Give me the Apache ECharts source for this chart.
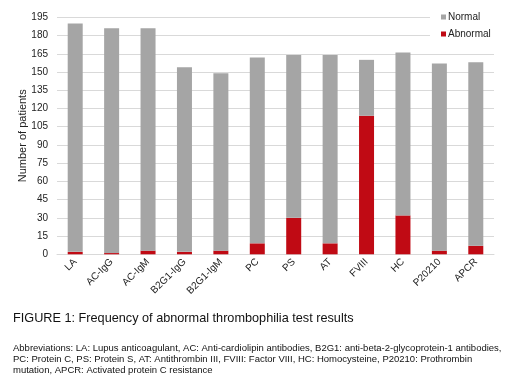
<!DOCTYPE html>
<html><head><meta charset="utf-8">
<script src="https://cdn.jsdelivr.net/npm/echarts@6/dist/echarts.min.js"></script>
<style>html,body{margin:0;padding:0;background:#fff}#c{width:520px;height:391px}</style>
</head><body><div id="c"></div>
<script>
const categories = ['LA','AC-IgG','AC-IgM','B2G1-IgG','B2G1-IgM','PC','PS','AT','FVIII','HC','P20210','APCR'];
const abnormal = [2,1,3,2,3,9,30,9,114,32,3,7];
const normal = [188,185,183,152,146,153,134,155,46,134,154,151];
const yTicks = [0,15,30,45,60,75,90,105,120,135,150,165,180,195];
const caption = 'FIGURE 1: Frequency of abnormal thrombophilia test results';
const abbrev = ['Abbreviations: LA: Lupus anticoagulant, AC: Anti-cardiolipin antibodies, B2G1: anti-beta-2-glycoprotein-1 antibodies,',
  'PC: Protein C, PS: Protein S, AT: Antithrombin III, FVIII: Factor VIII, HC: Homocysteine, P20210: Prothrombin',
  'mutation, APCR: Activated protein C resistance'];
const FONT = 'Arial, "Liberation Sans", sans-serif';
const chart = echarts.init(document.getElementById('c'));
chart.setOption({
  animation:false,
  textStyle:{fontFamily:FONT},
  grid:{left:57,right:26,top:17.3,bottom:136.7,containLabel:false},
  legend:{orient:'vertical',left:430,top:8,itemWidth:5,itemHeight:5,itemGap:7,icon:'rect',
    data:['Normal','Abnormal'],backgroundColor:'#fff',padding:[4,28,5,11],
    textStyle:{fontSize:10,color:'#222',fontFamily:FONT,padding:[0,0,0,-3]}},
  xAxis:{type:'category',data:categories,
    axisLine:{lineStyle:{color:'#d9d9d9'}},axisTick:{show:false},
    axisLabel:{rotate:45,fontSize:10,color:'#222',margin:6,interval:0}},
  yAxis:{type:'value',min:0,max:195,interval:15,
    name:'Number of patients',nameLocation:'middle',nameGap:29,nameMoveOverlap:false,
    nameTextStyle:{fontSize:11,color:'#222'},
    axisLine:{show:false},axisTick:{show:false},
    axisLabel:{fontSize:10,color:'#222',margin:9,formatter:v=>yTicks.includes(v)?String(v):''},
    splitLine:{lineStyle:{color:'#d9d9d9'}}},
  series:[
    {name:'Abnormal',type:'bar',stack:'t',data:abnormal,barWidth:15,
     itemStyle:{color:'#c00a14'}},
    {name:'Normal',type:'bar',stack:'t',data:normal,barWidth:15,
     itemStyle:{color:'#a5a5a5'}}
  ],
  graphic:[
    {type:'text',left:13,top:312,style:{text:caption,font:'12.7px '+FONT,fill:'#111'}},
    {type:'text',left:13,top:343,style:{text:abbrev.join('\n'),font:'9.5px '+FONT,fill:'#111',lineHeight:11}}
  ]
});
</script></body></html>
